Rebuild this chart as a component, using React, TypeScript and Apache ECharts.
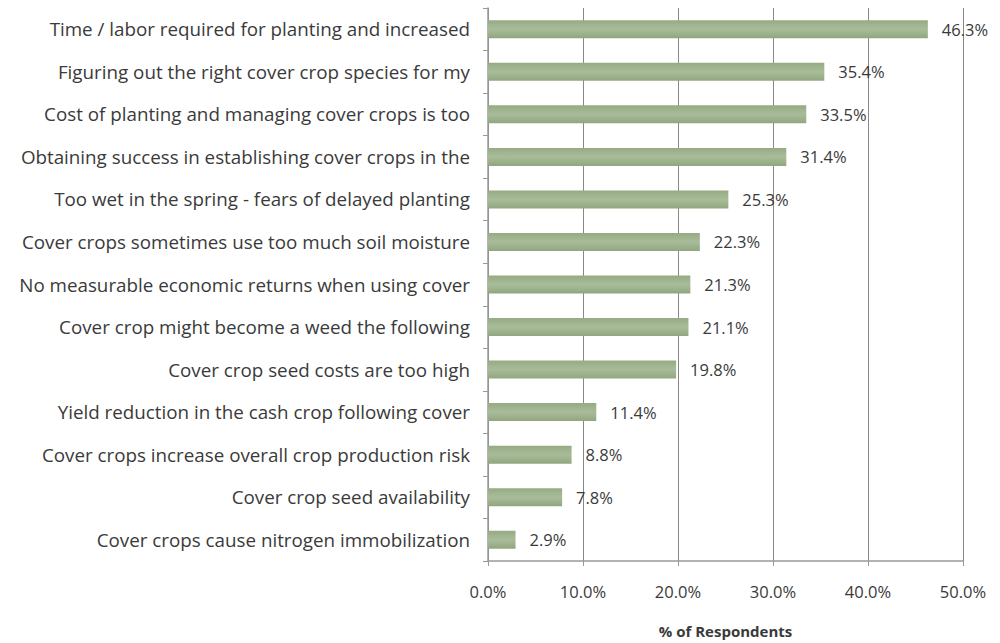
import React, { useEffect, useRef } from "react";
import * as echarts from "echarts";

const categories = [
  "Time / labor required for planting and increased",
  "Figuring out the right cover crop species for my",
  "Cost of planting and managing cover crops is too",
  "Obtaining success in establishing cover crops in the",
  "Too wet in the spring - fears of delayed planting",
  "Cover crops sometimes use too much soil moisture",
  "No measurable economic returns when using cover",
  "Cover crop might become a weed the following",
  "Cover crop seed costs are too high",
  "Yield reduction in the cash crop following cover",
  "Cover crops increase overall crop production risk",
  "Cover crop seed availability",
  "Cover crops cause nitrogen immobilization",
];
const values = [46.3, 35.4, 33.5, 31.4, 25.3, 22.3, 21.3, 21.1, 19.8, 11.4, 8.8, 7.8, 2.9];
const axisTitle = "% of Respondents";

const FONT = "Open Sans";
const TXT = "#3a3a3a";

export default function App() {
  const ref = useRef<HTMLDivElement>(null);
  useEffect(() => {
    if (!ref.current) return;
    const chart = echarts.init(ref.current, undefined, { renderer: "svg" });
    chart.setOption({
      animation: false,
      backgroundColor: "#ffffff",
      grid: { left: 488, right: 37, top: 8, bottom: 73 },
      xAxis: {
        type: "value",
        min: 0,
        max: 50,
        interval: 10,
        name: axisTitle,
        nameLocation: "middle",
        nameGap: 62,
        nameTextStyle: { fontFamily: FONT, fontSize: 15, fontWeight: "bold", color: TXT },
        axisLine: { show: true, lineStyle: { color: "#999", width: 1.5 } },
        axisTick: { show: true, length: 5, lineStyle: { color: "#999" } },
        axisLabel: {
          margin: 22,
          fontFamily: FONT,
          fontSize: 16.5,
          color: TXT,
          formatter: (v: number) => v.toFixed(1) + "%",
        },
        splitLine: { show: true, lineStyle: { color: "#888", width: 1 } },
      },
      yAxis: {
        type: "category",
        data: categories,
        inverse: true,
        axisLine: { show: true, lineStyle: { color: "#999", width: 1.5 } },
        axisTick: { show: true, length: 5, lineStyle: { color: "#999" } },
        axisLabel: { margin: 18, fontFamily: FONT, fontSize: 18.8, color: TXT },
      },
      series: [
        {
          type: "bar",
          data: values,
          barWidth: 18,
          itemStyle: {
            color: new echarts.graphic.LinearGradient(0, 0, 0, 1, [
              { offset: 0, color: "#95ab83" },
              { offset: 0.5, color: "#a9bc9a" },
              { offset: 1, color: "#90a67f" },
            ]),
          },
          label: {
            show: true,
            position: "right",
            distance: 14,
            fontFamily: FONT,
            fontSize: 16.5,
            color: TXT,
            formatter: (p: any) => p.value.toFixed(1) + "%",
          },
        },
      ],
    });
    return () => chart.dispose();
  }, []);
  return (
    <div
      ref={ref}
      style={{ position: "fixed", left: 0, top: 0, width: 1000, height: 643 }}
    />
  );
}
